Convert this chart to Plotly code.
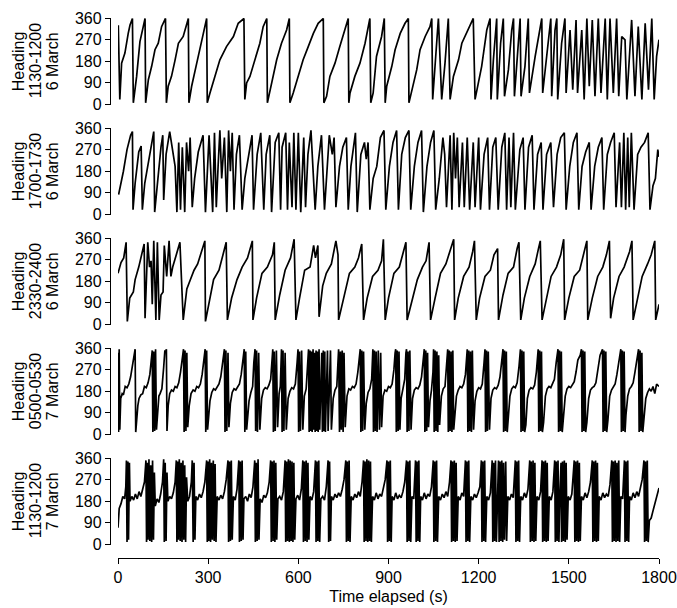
import plotly.graph_objects as go

# ---------------- data (time s, heading deg) ----------------
panel_labels = [["Heading", "1130-1200", "6 March"], ["Heading", "1700-1730", "6 March"],
                ["Heading", "2330-2400", "6 March"], ["Heading", "0500-0530", "7 March"],
                ["Heading", "1130-1200", "7 March"]]
y_ticks = [0, 90, 180, 270, 360]
x_ticks = [0, 300, 600, 900, 1200, 1500, 1800]

series_1 = [(1,330),(6,21),(12,172),(23,214),(34,296),(40,331),(48,358),(51,7),(62,117),(73,262),(84,324),(90,358),(92,7),(101,103),(112,159),(123,228),(134,255),(145,324),(158,358),(161,7),(167,76),(178,117),(190,186),(201,255),(217,283),(234,358),(236,7),(245,76),(262,172),(273,228),(284,296),(295,358),(297,7),(306,48),(323,117),(339,186),(361,241),(384,283),(400,338),(419,358),(422,21),(428,90),(439,117),(456,186),(472,255),(483,324),(495,358),(497,7),(506,62),(517,117),(528,186),(544,255),(561,310),(570,358),(572,7),(583,48),(600,117),(616,186),(633,241),(650,296),(666,338),(683,358),(685,7),(694,34),(705,117),(722,172),(738,241),(755,310),(766,358),(768,7),(772,48),(788,117),(805,172),(822,255),(833,324),(838,358),(841,7),(849,48),(860,200),(877,283),(886,358),(889,7),(894,76),(911,159),(922,228),(939,296),(955,338),(966,358),(968,7),(983,90),(994,145),(1005,228),(1022,283),(1038,324),(1044,358),(1047,21),(1055,172),(1066,358),(1077,21),(1088,172),(1099,358),(1105,21),(1116,117),(1133,186),(1144,255),(1160,296),(1177,338),(1182,358),(1188,21),(1199,90),(1210,159),(1227,310),(1238,358),(1241,21),(1249,186),(1260,358),(1262,21),(1273,255),(1282,358),(1286,34),(1299,145),(1310,310),(1316,358),(1319,34),(1329,186),(1338,358),(1341,34),(1354,159),(1365,358),(1369,48),(1388,200),(1410,358),(1413,48),(1426,186),(1440,358),(1443,34),(1454,310),(1460,358),(1463,21),(1476,255),(1487,358),(1491,48),(1504,310),(1513,62),(1524,352),(1529,48),(1543,310),(1551,21),(1560,358),(1568,76),(1578,352),(1587,34),(1598,358),(1607,48),(1621,358),(1628,21),(1637,358),(1648,48),(1659,358),(1666,34),(1676,283),(1687,269),(1693,21),(1709,352),(1720,34),(1731,324),(1743,21),(1754,338),(1765,62),(1776,358),(1784,21),(1792,200),(1800,270)]

series_2 = [(2,83),(18,180),(30,270),(42,330),(48,345),(50,20),(57,130),(69,260),(77,285),(81,20),(89,130),(101,220),(113,310),(119,345),(122,10),(131,140),(143,280),(149,330),(152,60),(160,250),(172,345),(190,200),(196,10),(202,300),(208,20),(214,280),(222,10),(228,300),(235,180),(240,320),(247,30),(255,150),(267,260),(283,330),(291,10),(303,330),(315,10),(321,340),(327,30),(333,200),(339,350),(345,150),(354,320),(362,10),(368,350),(374,180),(380,340),(386,20),(394,250),(404,330),(413,20),(422,150),(434,250),(446,330),(451,20),(463,250),(475,340),(485,20),(493,250),(505,330),(511,10),(523,300),(535,340),(541,20),(546,280),(558,340),(564,20),(570,300),(579,30),(585,340),(592,20),(600,340),(608,10),(618,320),(624,30),(632,250),(642,350),(651,160),(656,20),(665,200),(677,330),(687,20),(695,200),(703,330),(713,250),(719,320),(725,30),(737,200),(748,280),(760,320),(766,20),(775,200),(790,340),(796,10),(808,250),(820,300),(826,230),(832,300),(838,20),(849,150),(861,200),(873,320),(885,350),(891,20),(903,200),(915,300),(927,350),(933,20),(944,250),(956,320),(968,350),(974,20),(986,200),(998,300),(1010,350),(1016,10),(1028,200),(1040,300),(1051,350),(1057,20),(1069,150),(1081,320),(1087,250),(1093,30),(1105,330),(1111,20),(1117,340),(1123,150),(1129,320),(1135,30),(1146,300),(1152,30),(1162,320),(1170,20),(1182,300),(1188,30),(1200,320),(1206,20),(1218,250),(1230,320),(1236,20),(1247,280),(1257,320),(1265,20),(1277,280),(1287,340),(1293,20),(1301,320),(1307,30),(1316,340),(1322,20),(1337,270),(1348,320),(1354,20),(1366,280),(1378,330),(1384,20),(1396,250),(1408,300),(1414,20),(1426,250),(1440,300),(1449,30),(1461,250),(1473,320),(1485,340),(1491,20),(1503,200),(1515,300),(1527,340),(1533,20),(1544,200),(1556,260),(1568,300),(1574,20),(1586,200),(1598,280),(1610,320),(1616,20),(1628,250),(1639,300),(1651,340),(1657,30),(1669,300),(1675,30),(1683,340),(1689,20),(1696,320),(1701,30),(1708,340),(1717,20),(1729,250),(1740,280),(1752,300),(1764,340),(1770,20),(1780,120),(1788,150),(1796,270),(1800,240)]

series_3 = [(0,213),(10,258),(19,277),(27,342),(31,13),(39,110),(51,135),(57,187),(69,239),(81,303),(87,335),(90,26),(99,342),(105,239),(110,265),(114,84),(119,348),(126,19),(131,342),(137,19),(143,123),(150,135),(154,329),(162,200),(170,348),(176,200),(182,239),(194,290),(206,342),(217,19),(229,148),(241,187),(253,226),(265,252),(277,303),(289,348),(291,13),(306,110),(318,187),(336,226),(348,290),(360,342),(364,19),(378,110),(396,187),(413,239),(431,277),(447,348),(449,19),(461,110),(479,213),(497,239),(514,290),(520,342),(523,19),(538,123),(556,226),(574,277),(586,355),(592,19),(604,110),(621,226),(639,239),(651,329),(657,277),(665,329),(669,32),(681,161),(693,213),(710,252),(725,348),(732,290),(734,19),(752,110),(770,213),(788,239),(800,277),(811,335),(817,19),(829,110),(847,200),(865,226),(877,265),(883,355),(889,19),(900,110),(918,213),(936,239),(948,290),(958,342),(962,19),(978,97),(996,187),(1013,239),(1025,265),(1035,342),(1040,19),(1055,110),(1073,213),(1091,252),(1108,316),(1117,355),(1120,19),(1132,110),(1150,200),(1168,239),(1180,303),(1186,348),(1192,19),(1203,110),(1221,200),(1239,226),(1251,290),(1263,316),(1266,19),(1281,123),(1298,213),(1316,239),(1328,316),(1334,342),(1340,19),(1352,110),(1370,200),(1388,252),(1399,316),(1405,348),(1411,19),(1426,110),(1441,200),(1459,239),(1473,290),(1483,355),(1486,19),(1500,110),(1518,200),(1536,226),(1548,290),(1560,348),(1563,19),(1578,110),(1596,200),(1613,239),(1625,290),(1635,348),(1639,26),(1649,110),(1667,200),(1684,239),(1702,303),(1710,348),(1714,19),(1726,97),(1744,200),(1762,252),(1774,290),(1786,348),(1789,19),(1800,84)]

series_4 = [(0,340),(2,10),(4,355),(6,20),(9,150),(14,170),(18,165),(24,200),(30,195),(36,210),(42,240),(48,280),(54,330),(57,355),(59,10),(62,60),(66,120),(70,150),(76,165),(82,170),(88,200),(94,195),(100,215),(106,250),(110,300),(114,350),(116,10),(119,345),(122,15),(125,355),(128,20),(132,100),(136,160),(140,170),(146,190),(152,280),(156,350),(158,340),(161,355),(163,15),(167,120),(172,170),(178,185),(184,180),(190,200),(196,195),(202,215),(208,260),(214,320),(218,355),(220,10),(223,350),(226,15),(229,340),(232,30),(237,120),(243,170),(250,185),(256,180),(262,200),(268,195),(274,210),(280,250),(286,320),(290,355),(292,10),(295,350),(298,20),(301,80),(306,140),(312,175),(318,190),(324,185),(330,200),(336,210),(342,240),(348,300),(354,355),(356,10),(359,350),(362,15),(366,340),(369,30),(374,130),(380,175),(386,190),(392,185),(398,200),(404,210),(410,250),(416,310),(420,355),(422,10),(425,345),(428,20),(431,60),(436,140),(442,175),(448,200),(452,300),(456,355),(458,15),(461,350),(464,10),(468,340),(472,20),(478,150),(484,185),(490,195),(496,190),(502,205),(508,230),(512,300),(515,355),(517,10),(520,345),(523,15),(527,350),(531,30),(536,170),(540,200),(544,355),(546,10),(549,350),(552,15),(556,340),(560,20),(566,150),(572,180),(578,195),(584,190),(590,210),(596,300),(599,355),(601,10),(604,345),(607,15),(611,350),(615,20),(620,160),(626,190),(632,300),(634,355),(636,10),(639,350),(641,15),(644,345),(646,10),(649,355),(651,20),(654,340),(656,10),(659,350),(661,15),(664,345),(666,10),(669,355),(671,20),(674,200),(678,340),(680,10),(683,350),(685,15),(688,345),(690,10),(693,230),(697,350),(699,15),(703,200),(707,350),(710,20),(716,150),(722,185),(728,200),(734,355),(737,10),(740,345),(743,20),(746,350),(749,10),(752,340),(756,30),(762,160),(768,190),(774,185),(780,200),(786,195),(792,210),(798,260),(803,330),(806,355),(808,10),(811,350),(814,15),(817,345),(821,20),(826,130),(832,175),(838,190),(844,230),(848,355),(850,10),(853,350),(856,15),(859,345),(862,10),(866,350),(870,20),(874,340),(877,30),(882,160),(888,185),(894,180),(900,200),(906,195),(912,210),(918,270),(922,340),(924,355),(926,10),(929,350),(932,15),(935,345),(938,20),(942,150),(948,190),(954,230),(958,340),(960,355),(962,10),(965,345),(968,15),(971,350),(975,20),(980,150),(986,185),(992,195),(998,190),(1004,205),(1010,240),(1016,320),(1019,355),(1021,10),(1024,350),(1027,15),(1030,340),(1033,30),(1038,140),(1043,185),(1048,260),(1050,355),(1052,10),(1055,350),(1058,15),(1061,345),(1064,10),(1067,330),(1070,40),(1076,160),(1082,190),(1088,200),(1094,300),(1097,355),(1099,10),(1102,350),(1105,15),(1108,345),(1111,10),(1114,350),(1117,20),(1120,60),(1126,160),(1132,185),(1138,200),(1144,195),(1150,210),(1156,250),(1160,330),(1162,355),(1164,10),(1167,350),(1170,15),(1173,345),(1176,10),(1179,350),(1183,20),(1188,140),(1194,180),(1200,195),(1206,190),(1212,210),(1218,300),(1221,355),(1223,10),(1226,350),(1229,15),(1232,345),(1236,20),(1241,150),(1247,185),(1253,195),(1259,190),(1265,205),(1271,240),(1277,320),(1281,355),(1283,10),(1286,350),(1289,15),(1292,345),(1295,10),(1298,60),(1304,160),(1310,190),(1316,200),(1322,195),(1328,215),(1334,280),(1339,355),(1341,10),(1344,350),(1347,15),(1350,345),(1353,10),(1357,40),(1362,150),(1368,185),(1374,195),(1380,190),(1386,205),(1392,260),(1398,355),(1400,10),(1403,350),(1406,15),(1409,345),(1412,10),(1416,50),(1422,160),(1428,190),(1434,200),(1440,195),(1446,210),(1452,230),(1458,300),(1464,355),(1466,10),(1469,350),(1472,15),(1475,345),(1478,10),(1482,60),(1488,160),(1494,190),(1500,200),(1506,195),(1512,210),(1518,220),(1524,260),(1530,310),(1538,330),(1542,355),(1544,10),(1547,350),(1550,15),(1553,345),(1556,10),(1560,50),(1566,150),(1572,185),(1578,195),(1584,200),(1590,215),(1596,260),(1604,330),(1612,355),(1614,10),(1617,350),(1620,15),(1623,345),(1626,10),(1630,60),(1636,160),(1642,185),(1648,200),(1654,210),(1660,250),(1668,330),(1673,355),(1675,10),(1678,350),(1681,15),(1684,345),(1687,10),(1690,80),(1696,160),(1702,190),(1708,200),(1714,215),(1720,260),(1728,340),(1732,355),(1734,10),(1737,350),(1740,15),(1743,340),(1746,10),(1750,60),(1756,150),(1762,175),(1768,190),(1774,180),(1780,200),(1786,170),(1792,210),(1800,200)]

series_5 = [(0,70),(4,150),(10,170),(16,200),(22,190),(26,240),(28,350),(30,10),(33,345),(35,20),(38,340),(40,180),(46,200),(52,185),(58,210),(64,190),(70,220),(76,200),(82,230),(88,260),(93,350),(95,10),(98,340),(100,20),(103,355),(106,15),(109,330),(112,10),(115,350),(118,20),(121,300),(124,160),(130,190),(136,175),(142,210),(148,260),(152,355),(154,10),(157,340),(160,15),(163,300),(166,180),(172,200),(178,190),(184,215),(190,260),(194,350),(196,10),(199,345),(201,20),(204,355),(207,15),(210,340),(213,10),(216,350),(219,20),(222,330),(225,10),(228,280),(232,180),(238,200),(244,260),(247,350),(250,10),(253,340),(256,20),(259,200),(265,185),(271,210),(277,195),(283,220),(289,260),(295,350),(297,10),(300,345),(302,15),(305,355),(308,10),(311,340),(314,20),(317,350),(320,15),(323,335),(326,10),(330,200),(336,185),(342,205),(348,190),(354,220),(360,270),(366,350),(368,10),(371,345),(374,15),(377,350),(380,20),(384,200),(390,185),(396,230),(402,350),(404,10),(407,345),(410,15),(413,350),(416,20),(419,190),(425,200),(431,180),(437,210),(443,195),(449,240),(455,350),(457,10),(460,340),(463,15),(466,355),(469,20),(473,190),(479,175),(485,205),(491,195),(497,215),(503,260),(508,350),(510,10),(513,345),(516,15),(519,350),(522,10),(525,340),(528,20),(532,190),(538,200),(544,185),(550,220),(556,350),(558,10),(561,345),(564,15),(567,355),(570,10),(573,350),(576,15),(579,345),(582,10),(585,340),(588,20),(592,190),(598,205),(604,185),(610,230),(615,350),(617,10),(620,345),(623,15),(626,350),(629,10),(632,340),(635,20),(639,200),(645,185),(651,220),(657,350),(659,10),(662,345),(665,15),(668,350),(671,10),(675,190),(681,200),(687,185),(693,240),(699,350),(701,10),(704,345),(707,15),(710,200),(716,185),(722,210),(728,195),(734,215),(740,200),(746,230),(752,270),(758,350),(760,10),(763,345),(766,15),(769,350),(772,10),(776,200),(782,185),(788,210),(794,195),(800,220),(806,200),(812,260),(817,350),(819,10),(822,345),(825,15),(828,355),(831,10),(834,350),(837,15),(840,345),(843,10),(847,200),(853,185),(859,215),(865,190),(871,210),(877,200),(883,230),(889,270),(895,350),(897,10),(900,345),(903,15),(906,350),(909,10),(912,200),(918,185),(924,215),(930,190),(936,205),(942,195),(948,220),(954,260),(960,350),(962,10),(965,345),(968,15),(971,350),(974,10),(978,200),(984,190),(990,350),(992,10),(995,345),(998,15),(1001,350),(1004,10),(1007,200),(1013,185),(1019,215),(1025,190),(1031,210),(1037,200),(1043,240),(1049,350),(1051,10),(1054,345),(1057,15),(1060,350),(1063,10),(1067,200),(1073,185),(1079,210),(1085,195),(1091,220),(1097,200),(1103,260),(1108,350),(1110,10),(1113,345),(1116,15),(1119,350),(1122,10),(1125,340),(1128,15),(1132,200),(1138,185),(1144,215),(1150,200),(1156,350),(1158,10),(1161,345),(1164,15),(1167,350),(1170,10),(1174,200),(1180,185),(1186,210),(1192,195),(1198,215),(1204,240),(1209,350),(1211,10),(1214,345),(1217,15),(1220,350),(1223,10),(1227,200),(1233,185),(1239,215),(1245,350),(1247,10),(1250,340),(1253,15),(1256,350),(1259,10),(1262,200),(1266,350),(1268,10),(1271,345),(1274,15),(1277,350),(1280,10),(1283,340),(1286,20),(1290,345),(1293,15),(1297,200),(1303,185),(1309,210),(1315,195),(1322,350),(1324,10),(1327,345),(1330,15),(1333,350),(1336,10),(1340,200),(1346,185),(1352,215),(1358,195),(1364,230),(1370,350),(1372,10),(1375,345),(1378,15),(1381,350),(1384,10),(1387,340),(1390,15),(1394,200),(1400,185),(1406,220),(1411,350),(1413,10),(1416,345),(1419,15),(1422,350),(1425,10),(1428,340),(1431,15),(1435,200),(1441,185),(1447,220),(1453,350),(1455,10),(1458,345),(1461,15),(1464,350),(1467,10),(1470,200),(1474,340),(1476,10),(1479,345),(1482,15),(1485,350),(1488,10),(1491,340),(1494,20),(1498,200),(1504,185),(1510,210),(1518,350),(1520,10),(1523,345),(1526,15),(1529,350),(1532,10),(1535,340),(1538,15),(1542,200),(1548,185),(1554,215),(1560,195),(1566,220),(1572,260),(1578,350),(1580,10),(1583,345),(1586,15),(1589,350),(1592,10),(1595,340),(1598,15),(1601,200),(1607,185),(1613,215),(1619,195),(1625,210),(1631,200),(1637,250),(1643,350),(1645,10),(1648,345),(1651,15),(1654,350),(1657,10),(1660,340),(1663,15),(1666,350),(1669,10),(1673,200),(1679,190),(1685,350),(1687,10),(1690,345),(1693,15),(1696,350),(1699,10),(1702,200),(1708,185),(1714,215),(1720,195),(1726,220),(1732,200),(1738,230),(1744,270),(1750,350),(1752,10),(1755,345),(1758,15),(1761,350),(1764,10),(1768,100),(1774,110),(1780,140),(1786,170),(1792,200),(1800,235)]

all_series = [series_1, series_2, series_3, series_4, series_5]

# ---------------- layout geometry (pixels of a 677 x 608 canvas) ----------------
W, H = 677, 608
FONT = "Liberation Sans, Arial, Helvetica, sans-serif"
FS = 16
panel_tops = [18, 128, 238, 348, 458]
panel_h = 86.5
x_left_px, x_right_px = 118, 659
yaxis_px = 110
xaxis_py = 558
label_cols_px = [18, 35, 52]

fig = go.Figure()
for i, s in enumerate(all_series):
    t = [p[0] for p in s]
    h = [p[1] for p in s]
    fig.add_trace(go.Scatter(x=t, y=h, mode="lines", xaxis="x",
                             yaxis="y" if i == 0 else f"y{i+1}",
                             line=dict(color="black", width=1.7),
                             showlegend=False, hoverinfo="skip"))

layout = dict(
    width=W, height=H,
    margin=dict(l=0, r=0, t=0, b=0),
    paper_bgcolor="white", plot_bgcolor="white",
    font=dict(family=FONT, size=FS, color="black"),
    xaxis=dict(domain=[x_left_px / W, x_right_px / W], range=[0, 1800],
               anchor="free", position=1 - xaxis_py / H,
               showline=True, linecolor="black", linewidth=1.3,
               ticks="outside", ticklen=5, tickwidth=1.3, tickcolor="black",
               tickvals=x_ticks, ticktext=[str(v) for v in x_ticks],
               tickfont=dict(size=FS), showgrid=False, zeroline=False,
               title=dict(text="Time elapsed (s)", font=dict(size=FS), standoff=5),
               automargin=False),
)
annotations = []
for i in range(5):
    top = panel_tops[i]
    bot = top + panel_h
    key = "yaxis" if i == 0 else f"yaxis{i+1}"
    layout[key] = dict(domain=[1 - bot / H, 1 - top / H], range=[0, 360],
                       anchor="free", position=yaxis_px / W,
                       showline=True, linecolor="black", linewidth=1.3,
                       ticks="outside", ticklen=5, tickwidth=1.3, tickcolor="black",
                       tickvals=y_ticks, ticktext=[str(v) for v in y_ticks],
                       tickfont=dict(size=FS), showgrid=False, zeroline=False,
                       automargin=False)
    for j, line in enumerate(panel_labels[i]):
        annotations.append(dict(text=line, x=label_cols_px[j] / W,
                                y=1 - (top + panel_h / 2) / H,
                                xref="paper", yref="paper", xanchor="center", yanchor="middle",
                                textangle=-90, showarrow=False,
                                font=dict(family=FONT, size=FS, color="black")))
layout["annotations"] = annotations
fig.update_layout(**layout)
fig.write_html("out.html", config={"displayModeBar": False},
               post_script="document.body.style.margin='0';document.body.style.padding='0';")
